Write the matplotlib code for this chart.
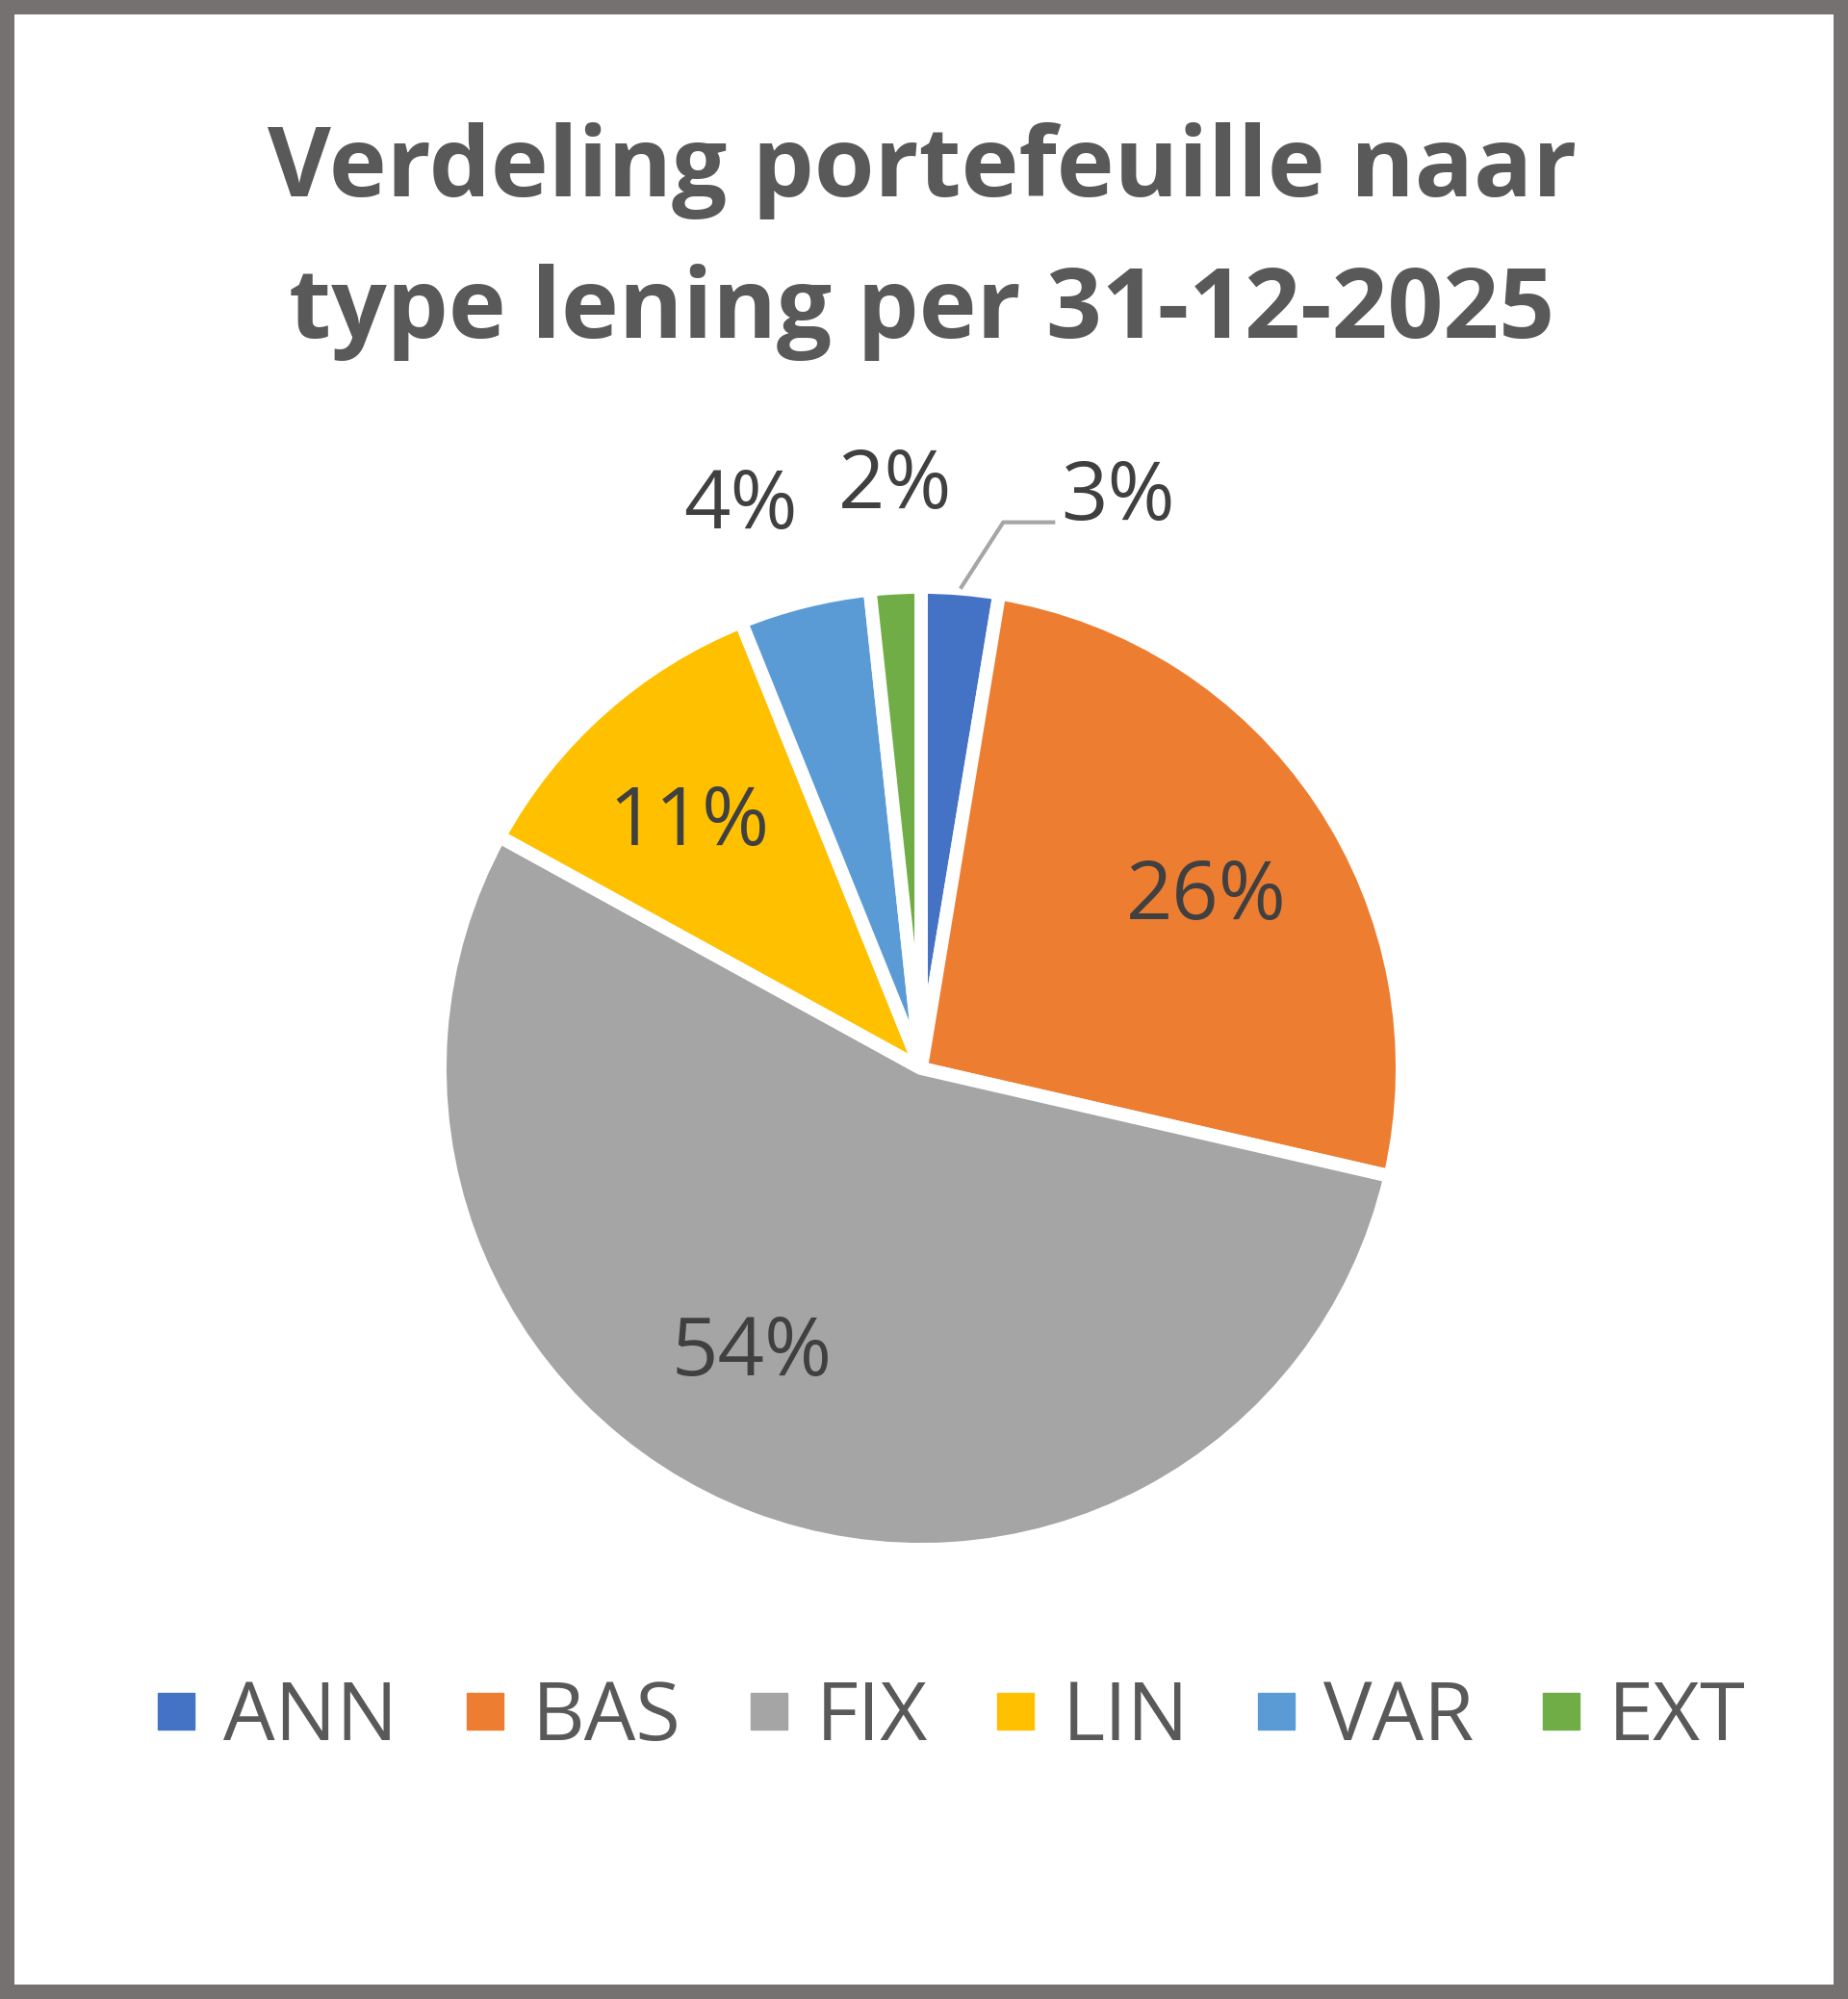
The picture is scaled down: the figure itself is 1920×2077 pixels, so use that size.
import numpy as np
import matplotlib.pyplot as plt
from matplotlib.patches import Rectangle
from matplotlib.lines import Line2D

# Data
types = ['ANN', 'BAS', 'FIX', 'LIN', 'VAR', 'EXT']
shares = [2.6, 26.0, 54.4, 10.9, 4.4, 1.7]
colors = ['#4472C4', '#ED7D31', '#A5A5A5', '#FFC000', '#5B9BD5', '#70AD47']
title = 'Verdeling portefeuille naar\ntype lening per 31-12-2025'

# label placement (distance from centre, angle nudge in degrees)
label_dist = [None, 0.69, 0.69, 0.70, 1.225, 1.21]
label_shift = [0, -3, -9.7, 2, 3.8, -0.5]

plt.rcParams['font.family'] = ['Open Sans', 'DejaVu Sans']

W, H = 1920, 2077
fig = plt.figure(figsize=(W / 100, H / 100), dpi=100)
fig.patch.set_facecolor('#767171')
fig.patches.append(Rectangle((15 / W, 15 / H), 1 - 30 / W, 1 - 30 / H,
                             transform=fig.transFigure, facecolor='white',
                             edgecolor='none', zorder=-1))

# pie axes: centre (957, 1110) px, radius 500 px
cx, cy, R = 957, 1110, 500
half = 1.5 * R
ax = fig.add_axes([(cx - half) / W, (H - cy - half) / H, 2 * half / W, 2 * half / H])
ax.patch.set_visible(False)
wedges, _ = ax.pie(shares, colors=colors, startangle=90, counterclock=False,
                   wedgeprops=dict(edgecolor='white', linewidth=10, joinstyle='bevel'))
ax.set_xlim(-1.5, 1.5)
ax.set_ylim(-1.5, 1.5)

total = sum(shares)
for i, w in enumerate(wedges):
    pct = shares[i] / total * 100
    txt = '%d%%' % int(round(pct))
    mid = np.deg2rad((w.theta1 + w.theta2) / 2 + label_shift[i])
    if label_dist[i] is None:
        # outside label with leader line
        x0, y0 = 1.0 * np.cos(mid), 1.0 * np.sin(mid)
        xs = [x0, x0 + 0.089, x0 + 0.197]
        ys = [y0, y0 + 0.138, y0 + 0.138]
        ax.plot(xs, ys, color='#A6A6A6', lw=3, solid_capstyle='butt', clip_on=False)
        ax.text(xs[-1] + 0.012, ys[-1] + 0.05, txt, ha='left', va='center',
                fontsize=61, color='#404040')
    else:
        d = label_dist[i]
        ax.text(d * np.cos(mid), d * np.sin(mid), txt, ha='center', va='center',
                fontsize=61, color='#404040')

fig.text(958 / W, 1 - 251 / H, title, ha='center', va='center',
         fontsize=73, fontweight='bold', color='#595959', linespacing=1.6)

handles = [Line2D([], [], marker='s', linestyle='none', markersize=27,
                  markerfacecolor=c, markeredgecolor=c) for c in colors]
fig.legend(handles, types, loc='center', bbox_to_anchor=(987 / W, 1 - 1786 / H),
           ncol=6, frameon=False, fontsize=61, labelcolor='#595959',
           handlelength=0.55, handletextpad=0.3, columnspacing=0.8)

fig.savefig('out.png', dpi=100, facecolor=fig.get_facecolor())
